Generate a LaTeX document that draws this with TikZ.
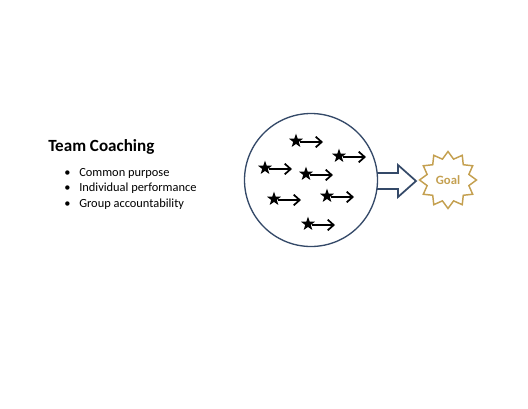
\documentclass[tikz,border=0pt]{standalone}
\usepackage{fontspec}
\setmainfont{Carlito}
\usetikzlibrary{shapes.geometric,arrows.meta}
\definecolor{navy}{RGB}{52,73,104}
\definecolor{gold}{RGB}{196,160,80}
\tikzset{
  x=0.75pt, y=-0.75pt,
  tstar/.style={star, star points=5, star point ratio=2.5, fill=black, draw=none, minimum size=11, inner sep=0pt},
  tarr/.style={line width=1.4pt, -{Straight Barb[length=4.5pt,width=8pt,line width=1.3pt]}},
  txt/.style={anchor=base west, inner sep=0pt, font=\fontsize{9.3pt}{11pt}\selectfont},
}
\begin{document}
\begin{tikzpicture}
\useasboundingbox (0,0) rectangle (528,408);
% text
\node[anchor=base west, inner sep=0pt, font=\fontsize{12.8pt}{15pt}\selectfont\bfseries] (title) at (48,151) {Team Coaching};
\node[txt] (b1) at (64,176) {•}; \node[txt] (t1) at (79,176) {Common purpose};
\node[txt] (b2) at (64,191) {•}; \node[txt] (t2) at (79,191) {Individual performance};
\node[txt] (b3) at (64,207) {•}; \node[txt] (t3) at (79,207) {Group accountability};
% block arrow
\draw[navy, line width=1.3pt, fill=white, line join=miter] (360,173) -- (398,173) -- (398,165) -- (416,181) -- (398,197) -- (398,189) -- (360,189) -- cycle;
% circle
\node[circle, draw=navy, line width=1pt, fill=white, minimum size=133*0.75pt, inner sep=0pt] (team) at (311,180) {};
% goal
\node[star, star points=12, star point ratio=1.32, draw=gold, line width=1.1pt, minimum size=57*0.75pt, inner sep=0pt, text=gold, font=\fontsize{9.5pt}{11pt}\selectfont\bfseries] (goal) at (448,180) {Goal};
% stars and arrows
\foreach \i/\x/\y in {1/296/141, 2/339/156, 3/265/168, 4/306/174, 5/274/199, 6/327/196, 7/308/224}{
  \node[tstar] (s\i) at (\x,\y) {};
  \coordinate (e\i) at (\x+27,\y+1);
  \draw[tarr] (s\i.east |- e\i) -- (e\i);
}
\end{tikzpicture}
\end{document}
